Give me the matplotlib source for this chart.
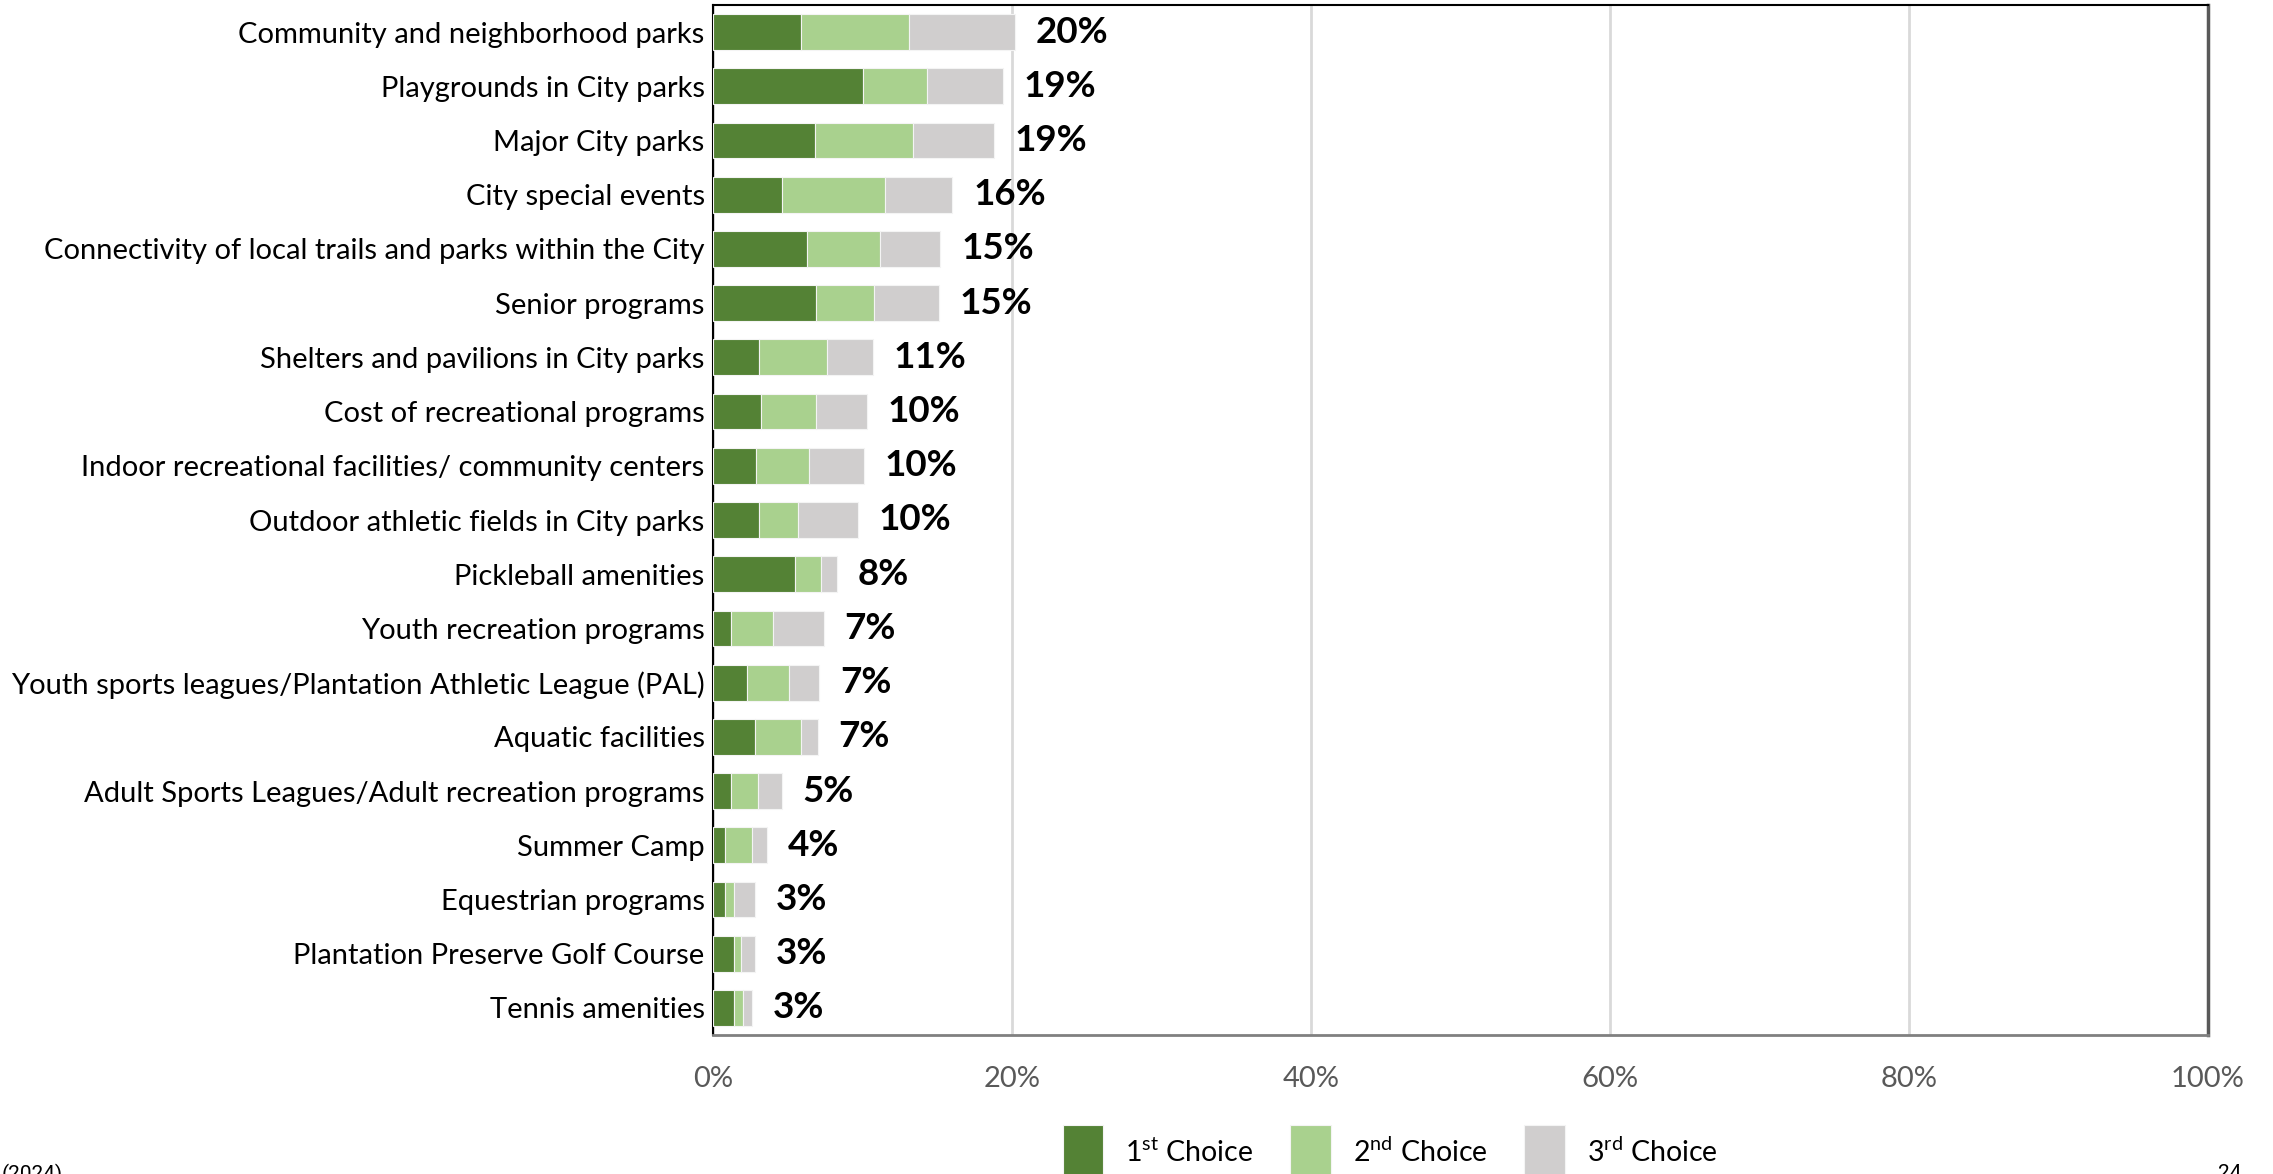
import matplotlib
matplotlib.use("Agg")
import matplotlib.pyplot as plt
from matplotlib.ticker import FuncFormatter

plt.rcParams['font.family'] = ['Lato', 'DejaVu Sans']
plt.rcParams['mathtext.fontset'] = 'custom'
plt.rcParams['mathtext.rm'] = 'Lato'

# survey items, top to bottom
categories = [
    "Community and neighborhood parks",
    "Playgrounds in City parks",
    "Major City parks",
    "City special events",
    "Connectivity of local trails and parks within the City",
    "Senior programs",
    "Shelters and pavilions in City parks",
    "Cost of recreational programs",
    "Indoor recreational facilities/ community centers",
    "Outdoor athletic fields in City parks",
    "Pickleball amenities",
    "Youth recreation programs",
    "Youth sports leagues/Plantation Athletic League (PAL)",
    "Aquatic facilities",
    "Adult Sports Leagues/Adult recreation programs",
    "Summer Camp",
    "Equestrian programs",
    "Plantation Preserve Golf Course",
    "Tennis amenities",
]

# percent of respondents
first_choice = [5.9, 10.0, 6.8, 4.6, 6.3, 6.9, 3.1, 3.2, 2.9, 3.1, 5.5, 1.2, 2.3, 2.8, 1.2, 0.8, 0.8, 1.4, 1.4]
second_choice = [7.2, 4.3, 6.6, 6.9, 4.9, 3.9, 4.5, 3.7, 3.5, 2.6, 1.7, 2.8, 2.8, 3.1, 1.8, 1.8, 0.6, 0.5, 0.6]
third_choice = [7.1, 5.1, 5.4, 4.5, 4.0, 4.3, 3.1, 3.4, 3.7, 4.0, 1.1, 3.4, 2.0, 1.1, 1.6, 1.0, 1.4, 0.9, 0.6]

series_names = ["1$^{\\mathrm{st}}$ Choice", "2$^{\\mathrm{nd}}$ Choice", "3$^{\\mathrm{rd}}$ Choice"]
colors = ["#548235", "#A9D18E", "#D0CECE"]

fig = plt.figure(figsize=(22.73, 11.74), dpi=100)
ax = fig.add_axes([713 / 2273, 1 - 1035 / 1174, (2208 - 713) / 2273, 1030 / 1174])

y = list(range(len(categories)))
left = [0.0] * len(categories)
for vals, name, col in zip([first_choice, second_choice, third_choice], series_names, colors):
    ax.barh(y, vals, left=left, height=0.66, color=col, label=name,
            edgecolor="#f4f4f4", linewidth=0.8, zorder=3)
    left = [l + v for l, v in zip(left, vals)]

# total labels
for yi, tot in zip(y, left):
    ax.text(tot + 1.4, yi, f"{round(tot)}%", va="center", ha="left",
            fontsize=26.5, fontweight="bold", color="black", zorder=4)

ax.set_xlim(0, 100)
ax.set_ylim(len(categories) - 0.5, -0.5)
ax.set_yticks(y)
ax.set_yticklabels(categories, fontsize=21, color="black")
ax.set_xticks([0, 20, 40, 60, 80, 100])
ax.xaxis.set_major_formatter(FuncFormatter(lambda v, p: f"{v:.0f}%"))
ax.tick_params(axis="x", labelsize=21, labelcolor="#595959", length=0, pad=22)
ax.tick_params(axis="y", length=0, pad=6)
ax.grid(axis="x", color="#D9D9D9", linewidth=2, zorder=0)

ax.spines["left"].set_color("black")
ax.spines["left"].set_linewidth(1.5)
ax.spines["top"].set_color("black")
ax.spines["top"].set_linewidth(1.5)
ax.spines["bottom"].set_color("#808080")
ax.spines["bottom"].set_linewidth(2)
ax.spines["right"].set_color("#595959")
ax.spines["right"].set_linewidth(2.5)

fig.legend(loc="upper left", bbox_to_anchor=(1063 / 2273, 1 - 1125 / 1174), ncol=3,
           frameon=False, fontsize=20.5, handlelength=1.42, handleheight=2.66,
           handletextpad=0.77, columnspacing=1.3, borderpad=0, borderaxespad=0)

fig.text(2 / 2273, 1 - 1164 / 1174, "(2024)", fontsize=15, va="top", ha="left",
         family=["Roboto", "DejaVu Sans"])
fig.text(2218 / 2273, 1 - 1164 / 1174, "24", fontsize=15, va="top", ha="left",
         family=["Roboto", "DejaVu Sans"])

fig.savefig("out.png", dpi=100)
